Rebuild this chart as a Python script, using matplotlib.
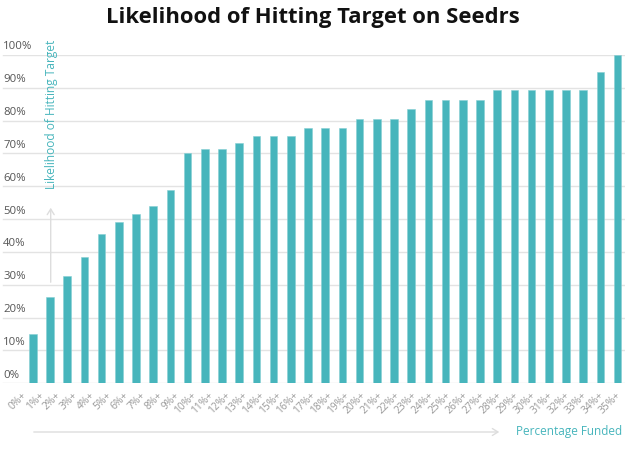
import numpy as np
import matplotlib
matplotlib.use("Agg")
import matplotlib.pyplot as plt
from matplotlib.transforms import blended_transform_factory
from matplotlib.patches import FancyArrowPatch

# ---- data ----
values = [15.0, 26.4, 32.8, 38.4, 45.5, 49.0, 51.6, 54.0, 59.0, 70.0,
          71.4, 71.4, 73.2, 75.3, 75.3, 75.3, 77.8, 77.8, 77.8, 80.6,
          80.6, 80.6, 83.7, 86.3, 86.3, 86.3, 86.3, 89.3, 89.3, 89.3,
          89.3, 89.3, 89.3, 94.8, 100.0]
tick_labels = [f"{i}%+" for i in range(36)]
y_ticks = [0, 10, 20, 30, 40, 50, 60, 70, 80, 90, 100]
y_tick_labels = [f"{v}%" for v in y_ticks]

title = "Likelihood of Hitting Target on Seedrs"
y_label = "Likelihood of Hitting Target"
x_label = "Percentage Funded"

TEAL = "#47b5bc"
GRID = "#e3e3e3"
FONT = ["Open Sans", "DejaVu Sans"]
plt.rcParams["font.family"] = FONT

W, H = 625, 453
fig = plt.figure(figsize=(W / 100, H / 100), dpi=100)

# axes occupying full width; bars placed via xlim
y0_px, y100_px = 383.3, 55.0
ax = fig.add_axes([0.0, (H - y0_px) / H, 1.0, (y0_px - y100_px) / H])
spacing, first_c = 17.2, 32.8
ax.set_xlim(-first_c / spacing, (W - first_c) / spacing)
ax.set_ylim(0, 100)

x = np.arange(len(values))
ax.bar(x, values, width=0.45, color=TEAL, edgecolor="#86d0d4", linewidth=0.4, zorder=3)

# gridlines
for v in y_ticks:
    ax.axhline(v, color=GRID, linewidth=1.0, zorder=1, xmin=0.005)

# y tick labels as text above grid lines
trans = blended_transform_factory(ax.transAxes, ax.transData)
for v, lab in zip(y_ticks, y_tick_labels):
    ax.text(0.005, v + 1.7, lab, transform=trans, ha="left", va="baseline",
            fontsize=8.2, color="#555555")

# x tick labels (36 labels spread over the 35 bars)
tick_pos = np.linspace(-0.2, 34.3, len(tick_labels))
ax.set_xticks(tick_pos)
ax.set_xticklabels(tick_labels, rotation=45, ha="right", va="top",
                   fontsize=7.4, color="#999999")
ax.tick_params(axis="x", length=0, pad=5)
ax.set_yticks([])
for s in ax.spines.values():
    s.set_visible(False)

# title
fig.text(0.5, (H - 17) / H, title, ha="center", va="center",
         fontsize=15.8, fontweight="bold", color="#111111")

# y-axis label and arrow
fig.text(51.7 / W, (H - 189) / H, y_label, rotation=90, ha="center", va="bottom",
         fontsize=8.6, color=TEAL)
fig.add_artist(FancyArrowPatch((50.7 / W, (H - 285) / H), (50.7 / W, (H - 205) / H),
                               transform=fig.transFigure, arrowstyle="->,head_length=4,head_width=2.5",
                               color="#dddddd", linewidth=1.0, mutation_scale=1))

# x-axis label and arrow
fig.text(622 / W, (H - 432) / H, x_label, ha="right", va="center",
         fontsize=8.5, color=TEAL)
fig.add_artist(FancyArrowPatch((31 / W, (H - 432) / H), (502 / W, (H - 432) / H),
                               transform=fig.transFigure, arrowstyle="->,head_length=4,head_width=2.5",
                               color="#dddddd", linewidth=1.0, mutation_scale=1))

fig.savefig("out.png", dpi=100)
